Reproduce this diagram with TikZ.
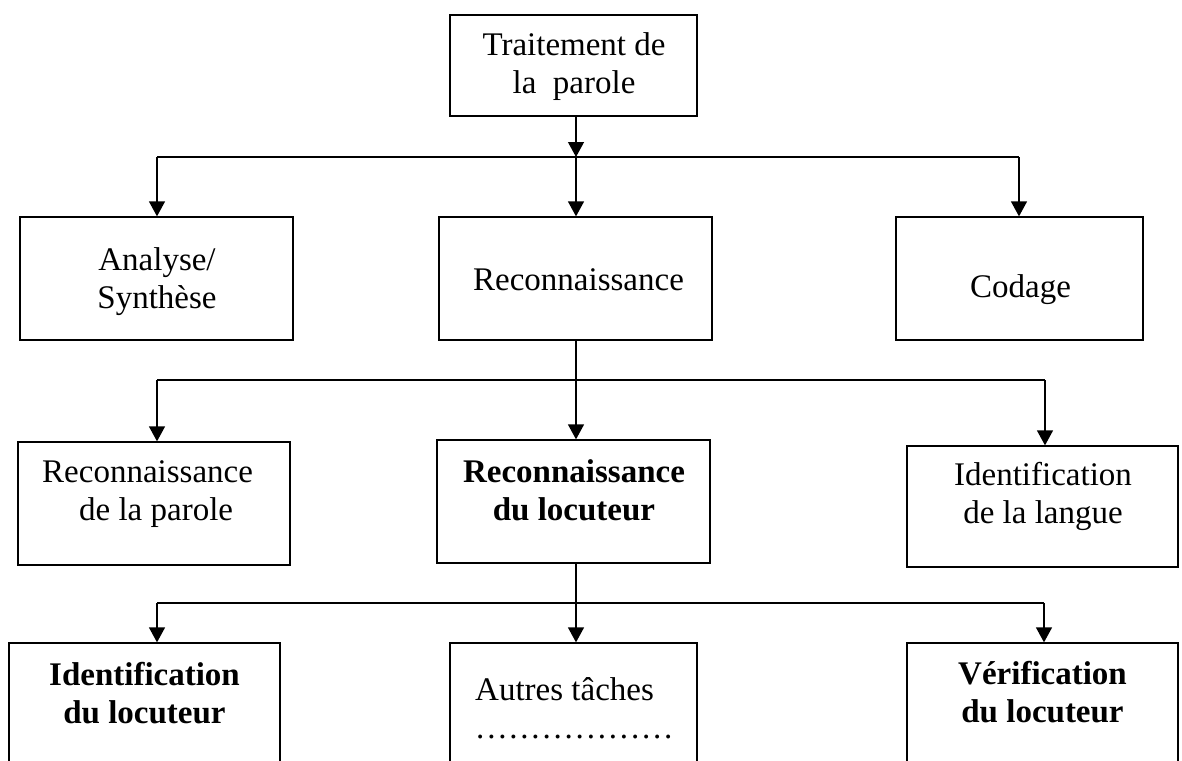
\documentclass[tikz,border=0pt]{standalone}
\usepackage{fontspec}
\setmainfont{Liberation Serif}
\usetikzlibrary{arrows.meta}
\newcommand\mydotrow{\foreach \i in {1,...,18}{\makebox[11.06pt][l]{.}}}
\tikzset{
  box/.style={draw=black, line width=1.3pt, rectangle, inner sep=0pt},
  txt/.style={inner sep=0pt, font=\fontsize{33}{38}\selectfont},
  btxt/.style={txt, font=\fontsize{33}{38}\selectfont\bfseries},
  link/.style={draw=black, line width=1.3pt},
  arr/.style={link, -{Triangle[width=16pt,length=15pt]}}
}
\begin{document}
\begin{tikzpicture}[x=1pt,y=-1pt]
\clip (0,0) rectangle (1182,760);
% boxes
\node[box, minimum width=247pt, minimum height=101pt] (top) at (573.5,65.5) {};
\node[box, minimum width=273pt, minimum height=123pt] (ana) at (156.5,278.5) {};
\node[box, minimum width=273pt, minimum height=123pt] (rec) at (575.5,278.5) {};
\node[box, minimum width=247pt, minimum height=123pt] (cod) at (1019.5,278.5) {};
\node[box, minimum width=272pt, minimum height=123pt] (rdp) at (154,503.5) {};
\node[box, minimum width=273pt, minimum height=123pt] (rdl) at (573.5,501.5) {};
\node[box, minimum width=271pt, minimum height=121pt] (idl) at (1042.5,506.5) {};
\node[box, minimum width=271pt, minimum height=127pt] (idloc) at (144.5,706.5) {};
\node[box, minimum width=247pt, minimum height=127pt] (aut) at (573.5,706.5) {};
\node[box, minimum width=271pt, minimum height=127pt] (ver) at (1042.5,706.5) {};
% texts
\node[txt, align=center, anchor=base] (topT) at (574,93) {Traitement de\\la\ \ parole};
\node[txt, align=center, anchor=base] (anaT) at (157,308) {Analyse/\\Synthèse};
\node[txt, anchor=base] (recT) at (578.5,290) {Reconnaissance};
\node[txt, anchor=base] (codT) at (1020.5,297) {Codage};
\node[txt, align=left, anchor=base west] (rdpT) at (42,520) {Reconnaissance\\\hspace*{37pt}de la parole};
\node[btxt, align=center, anchor=base] (rdlT) at (574,520) {Reconnaissance\\du locuteur};
\node[txt, align=center, anchor=base] (idlT) at (1043,523) {Identification\\de la langue};
\node[btxt, align=center, anchor=base] (idlocT) at (144.5,723) {Identification\\du locuteur};
\node[txt, align=left, anchor=base west] (autT) at (475,738) {Autres tâches\\\hspace*{1pt}\mydotrow};
\node[btxt, align=center, anchor=base] (verT) at (1042.5,722) {Vérification\\du locuteur};
% bus coordinates
\coordinate (b1) at (576,157);
\coordinate (b1L) at (157,157);
\coordinate (b1R) at (1019,157);
\coordinate (b2) at (576,380);
\coordinate (b2L) at (157,380);
\coordinate (b2R) at (1045,380);
\coordinate (b3) at (576,603);
\coordinate (b3L) at (157,603);
\coordinate (b3R) at (1044,603);
% level 1
\draw[arr] (b1 |- top.south) -- (b1);
\draw[link] (b1L) -- (b1R);
\draw[arr] (b1L) -- (b1L |- ana.north);
\draw[arr] (b1) -- (b1 |- rec.north);
\draw[arr] (b1R) -- (b1R |- cod.north);
% level 2
\draw[link] (b2 |- rec.south) -- (b2);
\draw[link] (b2L) -- (b2R);
\draw[arr] (b2L) -- (b2L |- rdp.north);
\draw[arr] (b2) -- (b2 |- rdl.north);
\draw[arr] (b2R) -- (b2R |- idl.north);
% level 3
\draw[link] (b3 |- rdl.south) -- (b3);
\draw[link] (b3L) -- (b3R);
\draw[arr] (b3L) -- (b3L |- idloc.north);
\draw[arr] (b3) -- (b3 |- aut.north);
\draw[arr] (b3R) -- (b3R |- ver.north);
\end{tikzpicture}
\end{document}
